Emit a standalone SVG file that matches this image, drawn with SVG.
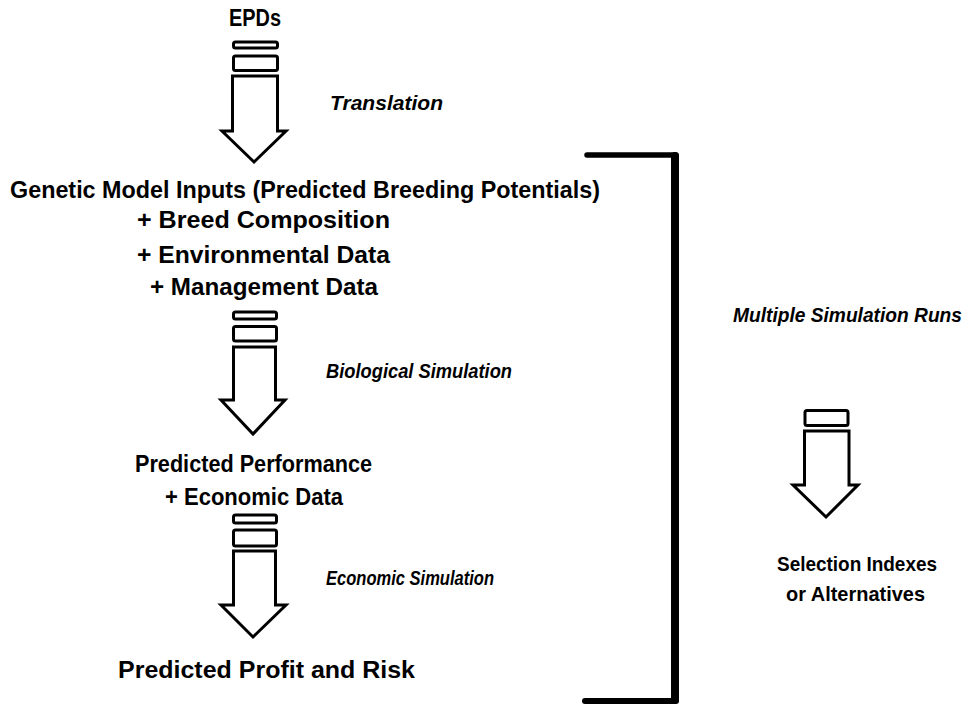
<svg xmlns="http://www.w3.org/2000/svg" width="966" height="705" viewBox="0 0 966 705">
  <style>
    .t { font-family: "Liberation Sans", Arial, sans-serif; font-weight: bold; font-size: 23px; fill: #000; }
    .s { font-size: 21px; }
    .i { font-family: "Liberation Sans", Arial, sans-serif; font-weight: bold; font-style: italic; font-size: 19.5px; fill: #000; }
    .box { fill: #fff; stroke: #000; stroke-width: 3; }
    .arrow { fill: #fff; stroke: #000; stroke-width: 3; stroke-linejoin: miter; }
    .br { stroke: #000; fill: none; stroke-linecap: round; }
  </style>
  <rect width="966" height="705" fill="#fff"/>

  <g id="epds">
    <text class="t" x="229" y="26" textLength="52" lengthAdjust="spacingAndGlyphs">EPDs</text>
  </g>

  <g id="arrow-translation">
    <rect class="box" x="233.5" y="42" width="44" height="6" rx="2"/>
    <rect class="box" x="233.5" y="56" width="44" height="14.5" rx="2"/>
    <path class="arrow" d="M232.5,76 H277.5 V131 H286 L254,162 L222,131 H232.5 Z"/>
    <text class="i" x="330" y="110" textLength="113" lengthAdjust="spacingAndGlyphs">Translation</text>
  </g>

  <g id="model-inputs">
    <text class="t" x="10" y="198" textLength="590" lengthAdjust="spacingAndGlyphs">Genetic Model Inputs (Predicted Breeding Potentials)</text>
    <text class="t" x="137" y="228" textLength="253" lengthAdjust="spacingAndGlyphs">+ Breed Composition</text>
    <text class="t" x="137" y="263" textLength="253" lengthAdjust="spacingAndGlyphs">+ Environmental Data</text>
    <text class="t" x="150" y="295" textLength="228" lengthAdjust="spacingAndGlyphs">+ Management Data</text>
  </g>

  <g id="arrow-biological">
    <rect class="box" x="233.5" y="312" width="43" height="7" rx="2"/>
    <rect class="box" x="233.5" y="326.5" width="43" height="14.5" rx="2"/>
    <path class="arrow" d="M233.5,347 H275.5 V400 H285 L253,434 L221,400 H233.5 Z"/>
    <text class="i" x="326" y="378" textLength="186" lengthAdjust="spacingAndGlyphs">Biological Simulation</text>
  </g>

  <g id="performance">
    <text class="t" x="135" y="472" textLength="237" lengthAdjust="spacingAndGlyphs">Predicted Performance</text>
    <text class="t" x="165" y="505" textLength="178" lengthAdjust="spacingAndGlyphs">+ Economic Data</text>
  </g>

  <g id="arrow-economic">
    <rect class="box" x="233.5" y="515" width="43" height="8" rx="2"/>
    <rect class="box" x="233.5" y="530" width="43" height="16" rx="2"/>
    <path class="arrow" d="M233.5,551 H275.5 V605 H286 L253,637 L221,605 H233.5 Z"/>
    <text class="i" x="326" y="585" textLength="168" lengthAdjust="spacingAndGlyphs">Economic Simulation</text>
  </g>

  <g id="profit-risk">
    <text class="t" x="118" y="678" textLength="297" lengthAdjust="spacingAndGlyphs">Predicted Profit and Risk</text>
  </g>

  <g id="connectors">
    <line class="br" x1="587" y1="155" x2="676" y2="155" stroke-width="5.5"/>
    <line class="br" x1="675" y1="156" x2="675" y2="699" stroke-width="8"/>
    <line class="br" x1="585" y1="701" x2="676" y2="701" stroke-width="6"/>
  </g>

  <g id="simulation-runs">
    <text class="i" x="733" y="322" textLength="229" lengthAdjust="spacingAndGlyphs">Multiple Simulation Runs</text>
    <rect class="box" x="805" y="410.5" width="43" height="15" rx="2"/>
    <path class="arrow" d="M804.5,431 H849 V485 H858 L826,517 L793,485 H804.5 Z"/>
  </g>

  <g id="selection-indexes">
    <text class="t s" x="777" y="571" textLength="160" lengthAdjust="spacingAndGlyphs">Selection Indexes</text>
    <text class="t s" x="786" y="601" textLength="139" lengthAdjust="spacingAndGlyphs">or Alternatives</text>
  </g>
</svg>
